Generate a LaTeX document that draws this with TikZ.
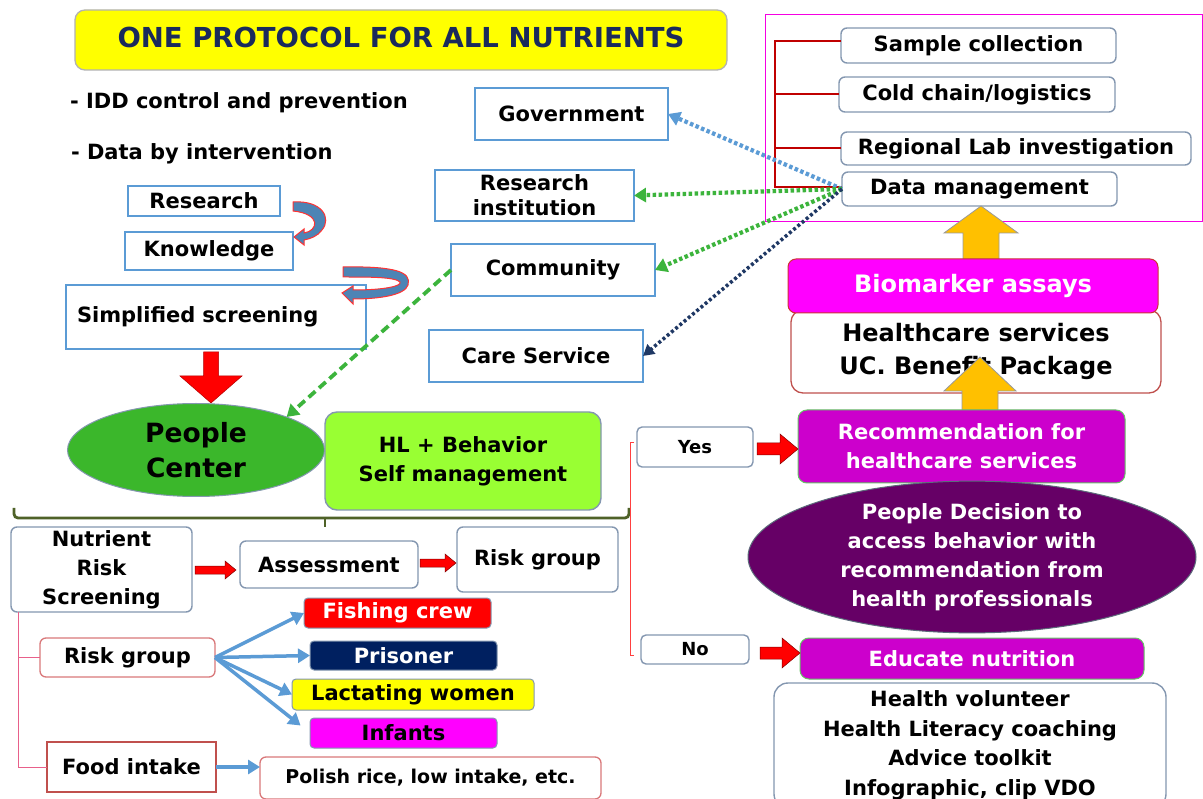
\documentclass[tikz,border=0pt]{standalone}
\usepackage{fontspec}
\setmainfont{DejaVu Sans}
\usetikzlibrary{arrows.meta,shapes.geometric}
\definecolor{cblue}{HTML}{5B9BD5}
\definecolor{cgraybd}{HTML}{8497B0}
\definecolor{cpinkbd}{HTML}{D9787A}
\definecolor{cfood}{HTML}{C0504D}
\definecolor{ctitle}{HTML}{1A2A5C}
\definecolor{cgreenE}{HTML}{3BB72B}
\definecolor{chl}{HTML}{99FF33}
\definecolor{cmag}{HTML}{CC00CC}
\definecolor{cfuch}{HTML}{FF00FF}
\definecolor{cpurple}{HTML}{660066}
\definecolor{cnavy}{HTML}{002060}
\definecolor{corange}{HTML}{FFC000}
\definecolor{cbrace}{HTML}{4F6228}
\definecolor{cdotgreen}{HTML}{3CB43C}
\definecolor{cdotnavy}{HTML}{1F3864}
\definecolor{cpinkline}{HTML}{E8608A}
\definecolor{cbrk}{HTML}{C00000}
\definecolor{cyel}{HTML}{FFFF00}
\newcommand\fz[2]{\fontsize{#1}{#2}\selectfont\bfseries}
\newcommand\bx[7]{\node[#6, minimum width={(#4)-(#2)}, minimum height={(#5)-(#3)}] (#1) at ({((#2)+(#4))/2},{((#3)+(#5))/2}) {#7};}
% horizontal block arrow: [style]{x1}{y}{x2}{shafthalf}{headhalf}{headlen}
\newcommand\harrow[7][]{\filldraw[#1] (#2,{(#3)-(#5)}) -- ({(#4)-(#7)},{(#3)-(#5)}) -- ({(#4)-(#7)},{(#3)-(#6)}) -- (#4,#3) -- ({(#4)-(#7)},{(#3)+(#6)}) -- ({(#4)-(#7)},{(#3)+(#5)}) -- (#2,{(#3)+(#5)}) -- cycle;}
% vertical block arrow: [style]{x}{ytail}{ytip}{shafthalf}{headhalf}{headbase y}
\newcommand\varrow[7][]{\filldraw[#1] ({(#2)-(#5)},#3) -- ({(#2)-(#5)},#7) -- ({(#2)-(#6)},#7) -- (#2,#4) -- ({(#2)+(#6)},#7) -- ({(#2)+(#5)},#7) -- ({(#2)+(#5)},#3) -- cycle;}
\begin{document}
\begin{tikzpicture}[x=1pt,y=-1pt,
  every node/.style={inner sep=0pt, outer sep=0pt, align=center, font=\fz{21}{29}},
  bbox/.style={draw=cblue, line width=1.2pt, fill=white},
  rbox/.style={draw=cgraybd, line width=1.4pt, fill=white, rounded corners=6pt},
  pinkbox/.style={draw=cpinkbd, line width=1.3pt, fill=white, rounded corners=6pt},
  foodbox/.style={draw=cfood, line width=1.8pt, fill=white},
  titlebox/.style={draw=gray!60, line width=1.3pt, fill=cyel, rounded corners=10pt, text=ctitle, font=\fz{27.5}{32}},
  magbox/.style={draw=green!60!black!60, line width=1pt, fill=cmag, rounded corners=9pt, text=white},
  biobox/.style={draw=cbrk!80, line width=1pt, fill=cfuch, rounded corners=8pt, text=white, font=\fz{24}{30}},
  hcbox/.style={draw=cfood, line width=1.3pt, fill=white, rounded corners=12pt, font=\fz{24}{33}},
  ynbox/.style={draw=cgraybd, line width=1.4pt, fill=white, rounded corners=5pt, font=\fz{18}{22}},
  tag/.style={draw=cgraybd, line width=1pt, rounded corners=4pt},
  redarr/.style={fill=red, draw=red!50!black, line width=0.5pt},
  orarr/.style={fill=corange, draw=gray!80, line width=0.8pt},
  curv/.style={fill=cblue!85!black, draw=red!80, line width=1pt},
  dotblue/.style={draw=cblue, line width=4.2pt, dash pattern=on 3.5pt off 2.5pt, -{Triangle[length=12pt,width=14pt]}},
  dotgreen/.style={draw=cdotgreen, line width=4.2pt, dash pattern=on 3.5pt off 2.5pt, -{Triangle[length=12pt,width=14pt]}},
  dotnavy/.style={draw=cdotnavy, line width=3.5pt, dash pattern=on 3pt off 2.5pt, -{Triangle[length=11pt,width=12pt]}},
  dashgreen/.style={draw=cdotgreen, line width=3.8pt, dash pattern=on 9pt off 5pt, -{Triangle[length=12pt,width=14pt]}},
  bluearr/.style={draw=cblue, line width=3.5pt, -{Triangle[length=12pt,width=14pt]}},
  brk/.style={draw=cbrk, line width=2pt},
]
\useasboundingbox (0,0) rectangle (1203,799);
\fill[white] (0,0) rectangle (1203,799);

% ---- top left
\bx{title}{75}{10}{727}{70}{titlebox, text depth=6pt}{ONE PROTOCOL FOR ALL NUTRIENTS}
\node[anchor=west] (idd) at (70,103) {- IDD control and prevention};
\node[anchor=west] (dbi) at (71,154) {- Data by intervention};
\bx{res}{128}{186}{280}{216}{bbox}{Research}
\bx{know}{125}{232}{293}{270}{bbox}{Knowledge}
\node[bbox, minimum height=64, text width=278, align=left, inner xsep=11pt] (simp) at (216,317) {Simplified screening};

% curved arrows
\filldraw[curv] (293,202) .. controls (322,200) and (332,218) .. (322,230) .. controls (318,236) and (310,239) .. (304,240) -- (304,245) -- (294,237) -- (304,229) -- (304,233) .. controls (318,231) and (322,214) .. (293,211) -- cycle;
\filldraw[curv] (343,267) .. controls (395,266) and (412,272) .. (408,285) .. controls (405,295) and (380,299) .. (353,299) -- (353,304) -- (342,293) -- (353,286) -- (353,290) .. controls (385,290) and (402,286) .. (400,282) .. controls (395,277) and (370,277) .. (343,277) -- cycle;

% red down arrow
\varrow[fill=red, draw=red!70!black, line width=0.5pt]{211}{352}{403}{7.5}{31}{376}

% ---- middle column
\bx{gov}{475}{88}{668}{140}{bbox}{Government}
\bx{ri}{435}{170}{634}{221}{bbox, font=\fz{21}{25}}{Research\\institution}
\bx{com}{451}{244}{655}{296}{bbox}{Community}
\bx{care}{429}{330}{643}{382}{bbox}{Care Service}

% ---- top right
\draw[draw=cfuch!85!purple, line width=1pt] (765,15) rectangle (1202,222);
\bx{sc}{841}{28}{1116}{63}{rbox}{Sample collection}
\bx{cc}{839}{77}{1115}{112}{rbox}{Cold chain/logistics}
\bx{rl}{841}{132}{1191}{165}{rbox}{Regional Lab investigation}
\bx{dm}{842}{172}{1117}{206}{rbox}{Data management}
\coordinate (bk) at (775,0);
\draw[brk] ([yshift=4pt]sc.west) -- ([yshift=4pt]sc.west -| bk) -- ([yshift=2pt]dm.west -| bk) -- ([yshift=2pt]dm.west);
\draw[brk] (cc.west) -- (cc.west -| bk);
\draw[brk] (rl.west) -- (rl.west -| bk);

\varrow[orarr]{981}{259}{206}{18}{37}{233}

\bx{hc}{791}{310}{1161}{393}{hcbox}{Healthcare services\\UC. Benefit Package}
\bx{bio}{788}{259}{1158}{313}{biobox}{Biomarker assays}
\varrow[orarr]{980}{410}{357}{18}{36}{391}

% dotted connectors
\draw[dotblue] (dm.west) -- (gov.east);
\draw[dotgreen] (dm.west) -- (ri.east);
\draw[dotgreen] (dm.west) -- (com.east);
\draw[dotnavy] (dm.west) -- (care.east);

% ---- people center
\node[ellipse, fill=cgreenE, draw=cgraybd, line width=1pt, minimum width=257, minimum height=93, font=\fz{26.5}{35}] (pc) at (196,450) {People\\Center};
\bx{hl}{325}{412}{601}{510}{rbox, fill=chl, rounded corners=12pt}{HL + Behavior\\Self management}
\draw[dashgreen] (com.west) -- (pc.20);

% brace
\draw[draw=cbrace, line width=2.8pt, rounded corners=4pt] (14,508) -- (14,518) -- (629,518) -- (629,508);
\draw[draw=cbrace, line width=2.8pt] (325,518) -- (325,527);

% ---- bottom left
\bx{nrs}{11}{527}{192}{612}{rbox}{Nutrient\\Risk\\Screening}
\bx{ass}{240}{541}{418}{588}{rbox}{Assessment}
\bx{rgr}{457}{527}{618}{592}{rbox}{Risk group}
\harrow[redarr]{195}{570}{236}{4}{9}{11}
\harrow[redarr]{420}{563}{456}{4}{9}{11}
\bx{fc}{304}{598}{491}{628}{tag, fill=red, text=white}{Fishing crew}
\bx{pr}{310}{641}{497}{670}{tag, fill=cnavy, text=white}{Prisoner}
\bx{lw}{292}{679}{534}{710}{tag, fill=cyel}{Lactating women}
\bx{inf}{310}{718}{497}{748}{tag, fill=cfuch}{Infants}
\bx{rgl}{40}{638}{215}{677}{pinkbox}{Risk group}
\bx{fi}{47}{742}{216}{792}{foodbox}{Food intake}
\bx{pol}{260}{757}{601}{799}{pinkbox, font=\fz{19}{24}}{Polish rice, low intake, etc.}
\coordinate (pk) at (18,0);
\draw[draw=cpinkline, line width=1pt] (nrs.south -| pk) -- (fi.west -| pk) -- (fi.west);
\draw[draw=cpinkline, line width=1pt] (rgl.west -| pk) -- (rgl.west);
\draw[bluearr] (rgl.east) -- (fc.west);
\draw[bluearr] (rgl.east) -- (pr.west);
\draw[bluearr] (rgl.east) -- (lw.west);
\draw[bluearr, shorten >=12pt] (rgl.east) -- (inf.west);
\draw[bluearr] (fi.east) -- (pol.west |- fi.east);

% ---- bottom right
\draw[draw=red!75, line width=1pt] (634,443) -- (630,443) -- (630,655) -- (634,655);
\bx{yes}{637}{427}{753}{467}{ynbox}{Yes}
\bx{rec}{798}{410}{1125}{483}{magbox}{Recommendation for\\healthcare services}
\harrow[redarr]{757}{449}{798}{6}{15}{18}
\node[ellipse, fill=cpurple, draw=cgraybd!70!black, line width=1pt, minimum width=448, minimum height=143, text=white] (pd) at (972,557) {People Decision to\\access behavior with\\recommendation from\\health professionals};
\bx{no}{641}{635}{749}{664}{ynbox}{No}
\bx{edu}{800}{638}{1144}{679}{magbox}{Educate nutrition}
\harrow[redarr]{760}{653}{800}{6}{15}{18}
\bx{hv}{774}{683}{1166}{808}{rbox, rounded corners=14pt, font=\fz{21}{29.5}}{Health volunteer\\Health Literacy coaching\\Advice toolkit\\Infographic, clip VDO}
\end{tikzpicture}
\end{document}
